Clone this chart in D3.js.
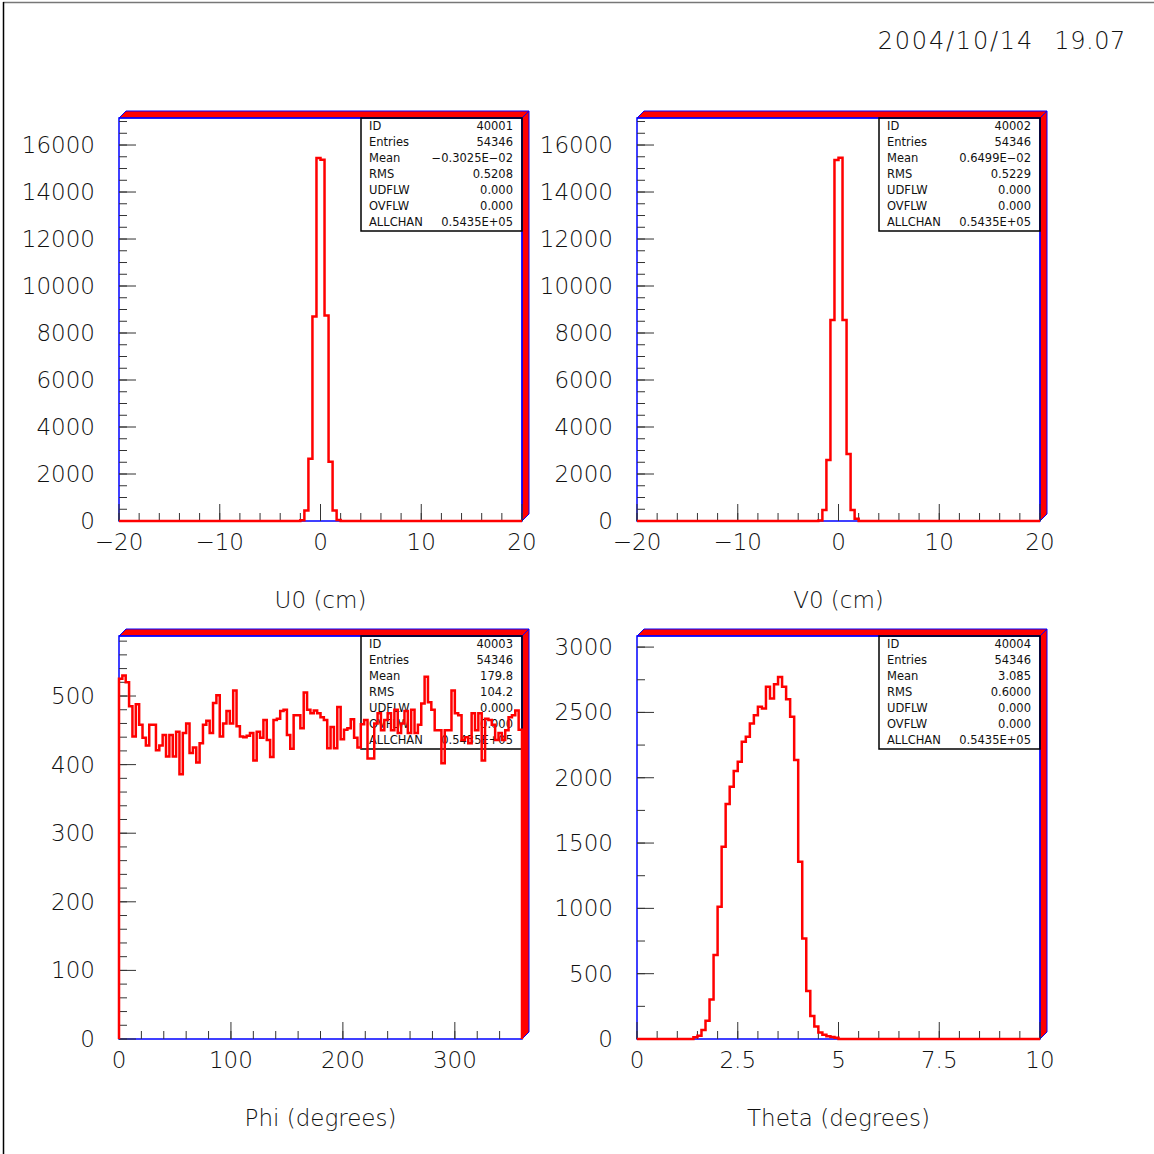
<!DOCTYPE html>
<html>
<head>
<meta charset="utf-8">
<script src="https://cdn.jsdelivr.net/npm/d3@7"></script>
<style>
  body { margin: 0; background: #fff; }
  svg text { font-family: "DejaVu Sans", sans-serif; fill: #111; }
</style>
</head>
<body>
<div id="chart"></div>
<script>
// histogram contents
var u0Start = -2.0, u0Width = 0.4;
var u0Counts = [30, 450, 2650, 8700, 15450, 15370, 8750, 2520, 450, 40];

var v0Start = -2.0, v0Width = 0.4;
var v0Counts = [20, 470, 2600, 8550, 15360, 15460, 8550, 2850, 470, 100];

var phiStart = 0, phiWidth = 3;
var phiCounts = [
  525, 530, 520, 485, 441, 488, 458, 439, 428, 458,
  458, 421, 428, 443, 412, 443, 412, 448, 386, 446,
  460, 417, 425, 403, 431, 458, 464, 446, 490, 501,
  441, 460, 478, 460, 508, 456, 441, 440, 442, 446,
  406, 448, 439, 465, 436, 411, 465, 467, 478, 480,
  443, 423, 472, 472, 453, 505, 480, 475, 479, 475,
  469, 465, 424, 455, 424, 484, 437, 451, 453, 466,
  439, 425, 459, 465, 409, 409, 460, 475, 450, 465,
  475, 450, 480, 446, 460, 478, 446, 480, 446, 458,
  489, 528, 491, 480, 450, 450, 402, 450, 450, 508,
  475, 472, 436, 440, 431, 475, 450, 475, 406, 467,
  465, 458, 436, 446, 436, 450, 469, 472, 479, 451
];

var thetaStart = 1.4, thetaWidth = 0.1;
var thetaCounts = [
  13, 25, 69, 140, 303, 643, 1013, 1472, 1798, 1931,
  2051, 2122, 2275, 2313, 2415, 2479, 2543, 2530, 2696, 2607,
  2716, 2772, 2696, 2600, 2466, 2135, 1357, 770, 367, 176,
  95, 50, 33, 22, 15, 10
];

// axis tick labels
var u0TickLabels = ["\u221220", "\u221210", "0", "10", "20"];
var phiTickLabels = ["0", "100", "200", "300"];
var thetaTickLabels = ["0", "2.5", "5", "7.5", "10"];

// stats boxes (PAW style)
var statNames = ["ID", "Entries", "Mean", "RMS", "UDFLW", "OVFLW", "ALLCHAN"];
var statsU0 = ["40001", "54346", "\u22120.3025E\u221202", "0.5208", "0.000", "0.000", "0.5435E+05"];
var statsV0 = ["40002", "54346", "0.6499E\u221202", "0.5229", "0.000", "0.000", "0.5435E+05"];
var statsPhi = ["40003", "54346", "179.8", "104.2", "0.000", "0.000", "0.5435E+05"];
var statsTheta = ["40004", "54346", "3.085", "0.6000", "0.000", "0.000", "0.5435E+05"];

var dateDay = "2004/10/14", dateTime = "19.07";

var W = 403, H = 403, D = 7;

var panels = [
  { x0: 119, y0: 118, xDom: [-20, 20], yDom: [0, 17150], xMajor: 10, xMinor: 2, yMajor: 2000, yMinor: 500,
    xLabels: u0TickLabels, title: "U0 (cm)", start: u0Start, width: u0Width, counts: u0Counts, stats: statsU0 },
  { x0: 637, y0: 118, xDom: [-20, 20], yDom: [0, 17150], xMajor: 10, xMinor: 2, yMajor: 2000, yMinor: 500,
    xLabels: u0TickLabels, title: "V0 (cm)", start: v0Start, width: v0Width, counts: v0Counts, stats: statsV0 },
  { x0: 119, y0: 636, xDom: [0, 360], yDom: [0, 587.5], xMajor: 100, xMinor: 20, yMajor: 100, yMinor: 20,
    xLabels: phiTickLabels, title: "Phi (degrees)", start: phiStart, width: phiWidth, counts: phiCounts, stats: statsPhi },
  { x0: 637, y0: 636, xDom: [0, 10], yDom: [0, 3085], xMajor: 2.5, xMinor: 0.5, yMajor: 500, yMinor: 250,
    xLabels: thetaTickLabels, title: "Theta (degrees)", start: thetaStart, width: thetaWidth, counts: thetaCounts, stats: statsTheta }
];

var svg = d3.select("#chart").append("svg")
  .attr("width", 1154).attr("height", 1154);

// page frame
svg.append("line").attr("x1", 3).attr("y1", 2.5).attr("x2", 1154).attr("y2", 2.5)
  .attr("stroke", "#777").attr("stroke-width", 1.5);
svg.append("line").attr("x1", 3.5).attr("y1", 2).attr("x2", 3.5).attr("y2", 1154)
  .attr("stroke", "#000").attr("stroke-width", 1.5);

// date stamp, top right
svg.append("text").attr("x", 1126).attr("y", 49)
  .attr("text-anchor", "end").attr("font-size", 24).attr("font-weight", 200)
  .attr("letter-spacing", 0.6).text(dateTime);
svg.append("text").attr("x", 1034).attr("y", 49)
  .attr("text-anchor", "end").attr("font-size", 24).attr("font-weight", 200)
  .attr("letter-spacing", 1.8).text(dateDay);

// tick values from lo to hi (inclusive) every step
function steps(lo, hi, step) {
  var n = Math.floor((hi - lo) / step + 1e-9);
  return d3.range(0, n + 1).map(function (i) { return lo + i * step; });
}

panels.forEach(function (p) {
  var g = svg.append("g").attr("transform", "translate(" + p.x0 + "," + p.y0 + ")");
  var x = d3.scaleLinear().domain(p.xDom).range([0, W]);
  var y = d3.scaleLinear().domain(p.yDom).range([H, 0]);

  // 3D red bands on top and right
  g.append("polygon")
    .attr("points", [[0, 0], [D, -D], [W + D, -D], [W, 0]].join(" "))
    .attr("fill", "#ff0000").attr("stroke", "#0000ff").attr("stroke-width", 1);
  g.append("polygon")
    .attr("points", [[W, 0], [W + D, -D], [W + D, H - D], [W, H]].join(" "))
    .attr("fill", "#ff0000").attr("stroke", "#0000ff").attr("stroke-width", 1);
  g.append("rect").attr("width", W).attr("height", H)
    .attr("fill", "none").attr("stroke", "#0000ff").attr("stroke-width", 1.5);

  // minor + major ticks
  var xMin = steps(p.xDom[0], p.xDom[1], p.xMinor);
  var xMaj = steps(p.xDom[0], p.xDom[1], p.xMajor);
  var yMin = steps(0, p.yDom[1], p.yMinor);
  var yMaj = steps(0, p.yDom[1], p.yMajor);

  g.selectAll(".xminor").data(xMin).enter().append("line")
    .attr("x1", function (d) { return x(d); }).attr("x2", function (d) { return x(d); })
    .attr("y1", H).attr("y2", H - 8).attr("stroke", "#333");
  g.selectAll(".xmajor").data(xMaj).enter().append("line")
    .attr("x1", function (d) { return x(d); }).attr("x2", function (d) { return x(d); })
    .attr("y1", H).attr("y2", H - 17).attr("stroke", "#333");
  g.selectAll(".yminor").data(yMin).enter().append("line")
    .attr("y1", function (d) { return y(d); }).attr("y2", function (d) { return y(d); })
    .attr("x1", 0).attr("x2", 8).attr("stroke", "#333");
  g.selectAll(".ymajor").data(yMaj).enter().append("line")
    .attr("y1", function (d) { return y(d); }).attr("y2", function (d) { return y(d); })
    .attr("x1", 0).attr("x2", 17).attr("stroke", "#333");

  // tick labels
  g.selectAll(".ylab").data(yMaj).enter().append("text")
    .attr("x", -24).attr("y", function (d) { return y(d) + 8; })
    .attr("text-anchor", "end").attr("font-size", 23).attr("font-weight", 200)
    .text(function (d) { return d; });
  g.selectAll(".xlab").data(p.xLabels).enter().append("text")
    .attr("x", function (d, i) { return x(xMaj[i]); }).attr("y", H + 29)
    .attr("text-anchor", "middle").attr("font-size", 23).attr("font-weight", 200)
    .text(function (d) { return d; });

  g.append("text").attr("x", W / 2).attr("y", H + 87)
    .attr("text-anchor", "middle").attr("font-size", 23).attr("font-weight", 200)
    .text(p.title);

  // stats box
  var bx = 242, bw = W - bx, bh = 113;
  g.append("rect").attr("x", bx).attr("y", 0).attr("width", bw).attr("height", bh)
    .attr("fill", "none").attr("stroke", "#000").attr("stroke-width", 1.5);
  statNames.forEach(function (name, i) {
    g.append("text").attr("x", bx + 8).attr("y", 12 + i * 16)
      .attr("font-size", 11.5).text(name);
    g.append("text").attr("x", W - 9).attr("y", 12 + i * 16)
      .attr("font-size", 11.5).attr("text-anchor", "end").text(p.stats[i]);
  });

  // histogram outline
  var pts = [[p.xDom[0], 0], [p.start, 0]];
  p.counts.forEach(function (c, i) {
    pts.push([p.start + i * p.width, c]);
    pts.push([p.start + (i + 1) * p.width, c]);
  });
  var end = p.start + p.counts.length * p.width;
  pts.push([end, 0]);
  pts.push([p.xDom[1], 0]);

  var line = d3.line()
    .x(function (d) { return x(d[0]); })
    .y(function (d) { return y(d[1]); });
  g.append("path").attr("d", line(pts))
    .attr("fill", "none").attr("stroke", "#ff0000").attr("stroke-width", 2.5)
    .attr("stroke-linejoin", "miter");
});
</script>
</body>
</html>
